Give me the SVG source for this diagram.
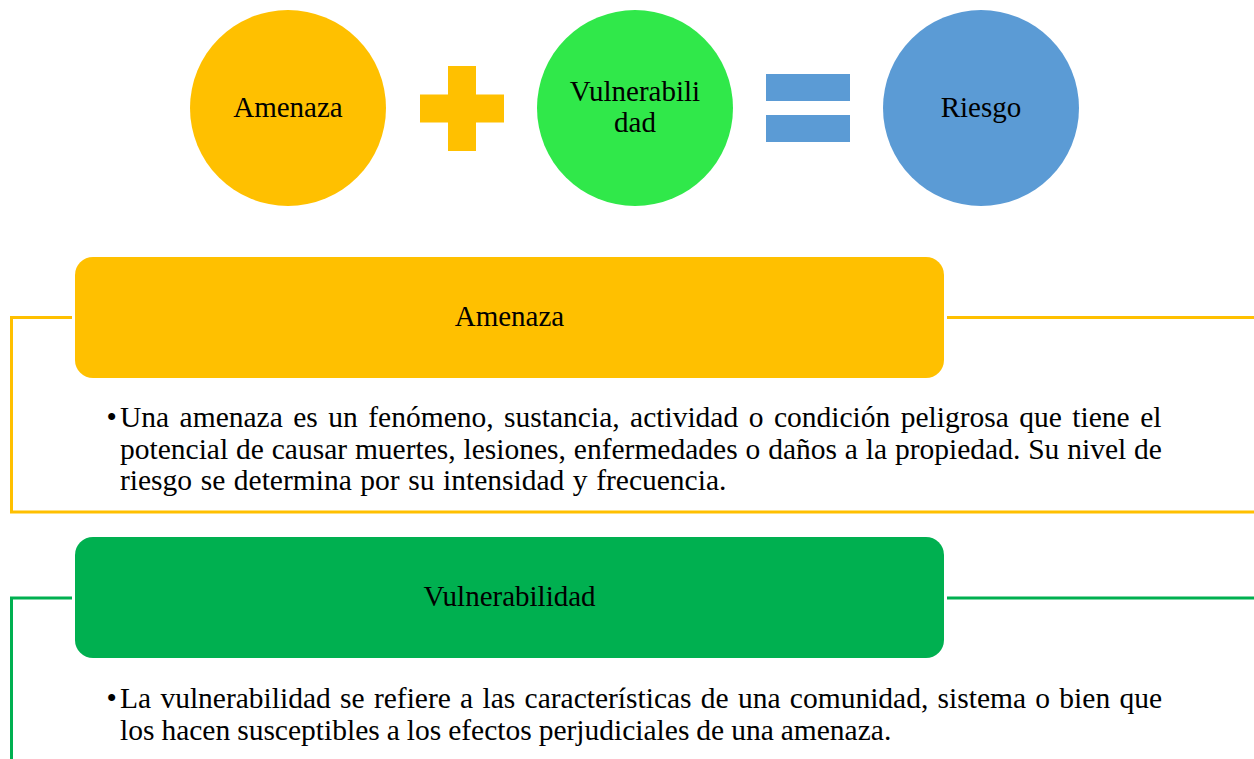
<svg xmlns="http://www.w3.org/2000/svg" width="1254" height="759" viewBox="0 0 1254 759">
<style>
text{font-family:"Liberation Serif","Times New Roman",serif;fill:#000}
.lbl{font-size:29px;text-anchor:middle}
.body{font-size:29.5px}
.yl{fill:none;stroke:#FFC000;stroke-width:3}
.gl{fill:none;stroke:#00B050;stroke-width:3}
</style>
<rect width="1254" height="759" fill="#fff"/>
<g id="connectors">
<path class="yl" d="M72,317.5 H11.5 V512 H1254"/>
<path class="yl" d="M947,317.5 H1254"/>
<path class="gl" d="M72,598 H11.5 V759"/>
<path class="gl" d="M947,598 H1254"/>
</g>
<g id="circle-amenaza">
<circle cx="288" cy="108" r="98" fill="#FFC000"/>
<text class="lbl" x="288" y="117">Amenaza</text>
</g>
<g id="plus">
<rect x="448" y="66" width="28" height="85" fill="#FFC000"/>
<rect x="420" y="94.5" width="84" height="28" fill="#FFC000"/>
</g>
<g id="circle-vulnerabilidad">
<circle cx="635" cy="108" r="98" fill="#30E84A"/>
<text class="lbl" x="635" y="101">Vulnerabili</text>
<text class="lbl" x="635" y="132">dad</text>
</g>
<g id="equals">
<rect x="766" y="74" width="84" height="27" fill="#5B9BD5"/>
<rect x="766" y="115" width="84" height="27" fill="#5B9BD5"/>
</g>
<g id="circle-riesgo">
<circle cx="981" cy="108" r="98" fill="#5B9BD5"/>
<text class="lbl" x="981" y="117">Riesgo</text>
</g>
<g id="box-amenaza">
<rect x="75" y="257" width="869" height="121" rx="18" fill="#FFC000"/>
<text class="lbl" x="509.5" y="326">Amenaza</text>
</g>
<g id="text-amenaza">
<text class="body" x="106.5" y="427">•</text>
<text class="body" x="120" y="427" word-spacing="3.1">Una amenaza es un fenómeno, sustancia, actividad o condición peligrosa que tiene el</text>
<text class="body" x="120" y="459" word-spacing="0.5">potencial de causar muertes, lesiones, enfermedades o daños a la propiedad. Su nivel de</text>
<text class="body" x="120" y="490" word-spacing="1.2">riesgo se determina por su intensidad y frecuencia.</text>
</g>
<g id="box-vulnerabilidad">
<rect x="75" y="537" width="869" height="121" rx="18" fill="#00B050"/>
<text class="lbl" x="509.5" y="606">Vulnerabilidad</text>
</g>
<g id="text-vulnerabilidad">
<text class="body" x="106.5" y="708">•</text>
<text class="body" x="120" y="708" word-spacing="1.9">La vulnerabilidad se refiere a las características de una comunidad, sistema o bien que</text>
<text class="body" x="120" y="740" word-spacing="-0.4">los hacen susceptibles a los efectos perjudiciales de una amenaza.</text>
</g>
</svg>
